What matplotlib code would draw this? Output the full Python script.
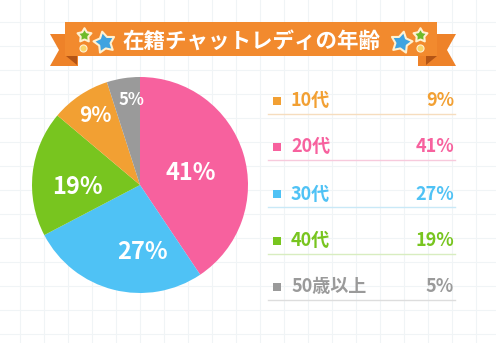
import numpy as np
import matplotlib
matplotlib.use("Agg")
import matplotlib.pyplot as plt
from matplotlib.patches import Polygon, Rectangle
from matplotlib.path import Path

plt.rcParams['font.family'] = ['Noto Sans CJK JP', 'DejaVu Sans']

# ---- data ----
title = "在籍チャットレディの年齢"
categories = ["10代", "20代", "30代", "40代", "50歳以上"]
shares = [9, 41, 27, 19, 5]
colors = ["#F2A033", "#F7619E", "#4FC2F5", "#78C51F", "#9A9A9A"]
rule_colors = ["#F6DDBE", "#F7CADC", "#C9E9F7", "#D8EDC0", "#DDDDDD"]
# wedges run clockwise from 12 o'clock in this order
pie_order = [1, 2, 3, 0, 4]

W, H, DPI = 496, 343, 100
fig = plt.figure(figsize=(W / DPI, H / DPI), dpi=DPI)
fig.patch.set_facecolor("white")

# background canvas in pixel units (y downward)
bg = fig.add_axes([0, 0, 1, 1])
bg.set_xlim(0, W)
bg.set_ylim(H, 0)
bg.axis("off")

grid_c = "#F0F4F6"
for x in np.arange(20, W, 24):
    bg.plot([x, x], [0, H], color=grid_c, lw=0.8, zorder=0)
for y in np.arange(22, H, 24):
    bg.plot([0, W], [y, y], color=grid_c, lw=0.8, zorder=0)

# ---- ribbon banner ----
band = "#F28A2E"
tail = "#EE8229"
fold = "#B35415"
bg.add_patch(Polygon([(50, 34), (78, 34), (78, 66), (50, 66), (59, 50)],
                     closed=True, fc=tail, ec="none", zorder=1))
bg.add_patch(Polygon([(418, 34), (456, 34), (447, 50), (456, 66), (418, 66)],
                     closed=True, fc=tail, ec="none", zorder=1))
bg.add_patch(Polygon([(66, 56), (77, 56), (77, 65)], closed=True,
                     fc=fold, ec="none", zorder=2))
bg.add_patch(Polygon([(426, 56), (437, 56), (426, 65)], closed=True,
                     fc=fold, ec="none", zorder=2))
bg.add_patch(Rectangle((65, 22), 372, 34, fc=band, ec="none", zorder=3))


def chubby_star(rot_deg):
    """Five-point star with a wide inner radius, rotated by rot_deg."""
    ang = np.deg2rad(90 + rot_deg + np.arange(10) * 36)
    rad = np.where(np.arange(10) % 2 == 0, 1.0, 0.55)
    verts = np.column_stack([rad * np.cos(ang), rad * np.sin(ang)])
    verts = np.vstack([verts, verts[:1]])
    codes = [Path.MOVETO] + [Path.LINETO] * 9 + [Path.CLOSEPOLY]
    return Path(verts, codes)


for (sx, sy, s, c, rot) in [(84, 35, 110, "#6DBB2A", 0), (104, 42, 250, "#3FA3E0", 12),
                            (420, 35, 110, "#6DBB2A", 0), (401, 42, 250, "#3FA3E0", -12)]:
    bg.scatter([sx], [sy], s=s, marker=chubby_star(rot), c=c,
               edgecolors="#FFF1D2", linewidths=1.5, zorder=5)
for dx in (83, 420):
    bg.scatter([dx], [48], s=26, marker="o", c="#F9D56A",
               edgecolors="#FFF1D2", linewidths=0.8, zorder=5)

bg.text(252, 41, title, color="white", fontsize=15.5, fontweight="bold",
        ha="center", va="center", zorder=6)

# ---- legend rows ----
row_y = [101, 147, 194, 241, 287]
for i, (lab, v) in enumerate(zip(categories, shares)):
    y = row_y[i]
    bg.add_patch(Rectangle((273, y - 4), 8, 8, fc=colors[i], ec="none", zorder=4))
    bg.text(291, y, lab, color=colors[i], fontsize=13, fontweight="bold",
            ha="left", va="center", zorder=4)
    bg.text(454, y, f"{v}%", color=colors[i], fontsize=13, fontweight="bold",
            ha="right", va="center", zorder=4)
    bg.plot([268, 455], [y + 13, y + 13], color=rule_colors[i], lw=1.0, zorder=3)

# ---- pie ----
cx, cy, r = 140, 185, 108
pax = fig.add_axes([(cx - r) / W, (H - cy - r) / H, 2 * r / W, 2 * r / H])
vals = [shares[k] for k in pie_order]
cols = [colors[k] for k in pie_order]
wedges, _ = pax.pie(vals, colors=cols, startangle=90, counterclock=False,
                    wedgeprops=dict(linewidth=0))
pax.set_xlim(-1, 1)
pax.set_ylim(-1, 1)
pax.set_aspect("equal")
pax.axis("off")

# label placement: radial distance and angular nudge from each wedge's midline
label_dist = [0.48, 0.62, 0.58, 0.77, 0.79]
label_nudge = [-3.5, 16, 8, -1, -3.5]
label_size = [17, 17, 17, 15, 12]
for w, k, d, da, fs in zip(wedges, pie_order, label_dist, label_nudge, label_size):
    ang = np.deg2rad((w.theta1 + w.theta2) / 2 + da)
    pax.text(d * np.cos(ang), d * np.sin(ang), f"{shares[k]}%", color="white",
             fontsize=fs, fontweight="bold", ha="center", va="center")

fig.savefig("out.png", dpi=DPI)
